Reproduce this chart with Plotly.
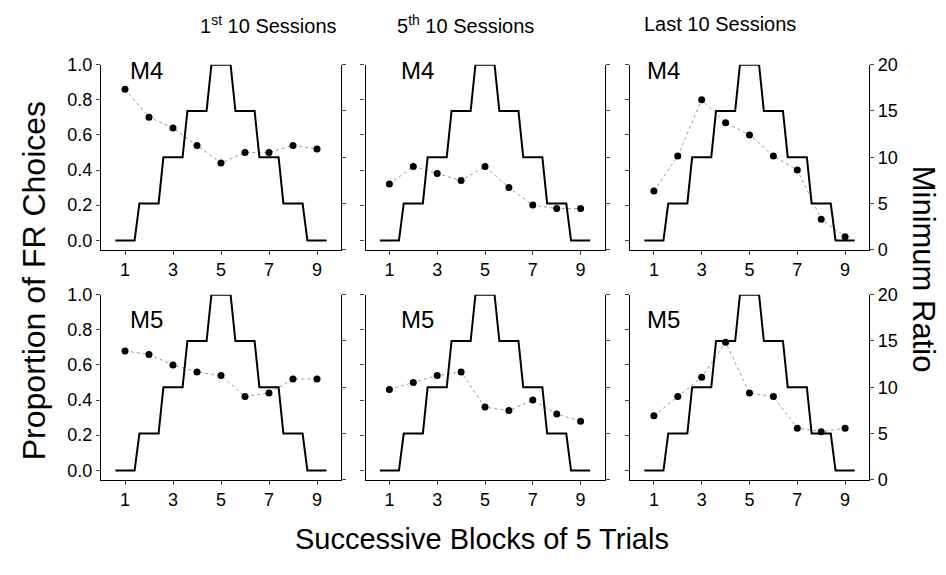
import plotly.graph_objects as go

# ---------------- data ----------------
blocks = [1, 2, 3, 4, 5, 6, 7, 8, 9]
min_ratio = [1, 5, 10, 15, 20, 15, 10, 5, 1]

m4_first = [0.86, 0.70, 0.64, 0.54, 0.44, 0.50, 0.50, 0.54, 0.52]
m4_fifth = [0.32, 0.42, 0.38, 0.34, 0.42, 0.30, 0.20, 0.18, 0.18]
m4_last = [0.28, 0.48, 0.80, 0.67, 0.60, 0.48, 0.40, 0.12, 0.02]
m5_first = [0.68, 0.66, 0.60, 0.56, 0.54, 0.42, 0.44, 0.52, 0.52]
m5_fifth = [0.46, 0.50, 0.54, 0.56, 0.36, 0.34, 0.40, 0.32, 0.28]
m5_last = [0.31, 0.42, 0.53, 0.73, 0.44, 0.42, 0.24, 0.22, 0.24]

subjects = ["M4", "M5"]
column_titles = ["1<sup>st</sup> 10 Sessions", "5<sup>th</sup> 10 Sessions", "Last 10 Sessions"]
x_ticks = [1, 3, 5, 7, 9]
left_ticks = [0.0, 0.2, 0.4, 0.6, 0.8, 1.0]
right_ticks = [0, 5, 10, 15, 20]

panel_data = [[m4_first, m4_fifth, m4_last], [m5_first, m5_fifth, m5_last]]

# ---------------- layout geometry ----------------
W, H = 946, 575
FONT = "Liberation Sans, Arial, sans-serif"
col_px = [(101, 341), (365.5, 604.5), (630, 869)]
row_px = [(56.7, 248.3), (295, 486.7)]
label_dx = [27, 33.5, 15]      # subject label offset from left axis (px)
label_cy = [63, 321]           # subject label vertical centre (px)


def xd(a, b):
    return [a / W, b / W]


def yd(top, bottom):
    return [1 - bottom / H, 1 - top / H]


def sfx(n):
    return "" if n == 1 else str(n)


# staircase built from the minimum-ratio values (each block drawn as a flat step)
half = 0.4
step_x, step_y = [], []
for b, v in zip(blocks, min_ratio):
    step_x += [b - half, b + half]
    step_y += [v, v]

fig = go.Figure()
layout = {}
tick_font = dict(family=FONT, size=18, color="black")
annotations = []

k = 0
for r in range(2):
    for c in range(3):
        k += 1
        xa = "x" + sfx(k)
        yl = "y" + sfx(2 * k - 1)
        yr = "y" + sfx(2 * k)
        # points
        fig.add_trace(go.Scatter(
            x=blocks, y=panel_data[r][c], xaxis=xa, yaxis=yl,
            mode="lines+markers",
            line=dict(color="#9a9a9a", width=1, dash="dot"),
            marker=dict(color="black", size=7),
            showlegend=False, hoverinfo="skip"))
        # staircase on right axis
        fig.add_trace(go.Scatter(
            x=step_x, y=step_y, xaxis=xa, yaxis=yr,
            mode="lines", line=dict(color="black", width=2),
            showlegend=False, hoverinfo="skip"))

        layout["xaxis" + sfx(k)] = dict(
            domain=xd(*col_px[c]), anchor=yl, range=[0, 10],
            tickvals=x_ticks, ticks="outside", ticklen=4, tickwidth=1,
            showline=True, linecolor="black", linewidth=1.2,
            showgrid=False, zeroline=False, tickfont=tick_font,
            fixedrange=True)
        layout["yaxis" + sfx(2 * k - 1)] = dict(
            domain=yd(*row_px[r]), anchor=xa, range=[-0.054, 1.0],
            tickvals=left_ticks, ticktext=[f"{t:.1f}" for t in left_ticks],
            showticklabels=(c == 0), ticks="outside", ticklen=4, tickwidth=1,
            showline=True, linecolor="black", linewidth=1.2,
            showgrid=False, zeroline=False, tickfont=tick_font,
            fixedrange=True)
        layout["yaxis" + sfx(2 * k)] = dict(
            domain=yd(*row_px[r]), anchor=xa, overlaying=yl, side="right",
            range=[0, 20], tickvals=right_ticks,
            showticklabels=(c == 2), ticks="outside", ticklen=4, tickwidth=1,
            showline=True, linecolor="black", linewidth=1.2,
            showgrid=False, zeroline=False, tickfont=tick_font,
            fixedrange=True)

        # subject label
        annotations.append(dict(
            text=subjects[r], xref="paper", yref="paper",
            x=(col_px[c][0] + label_dx[c]) / W, y=1 - label_cy[r] / H,
            xanchor="left", yanchor="middle", showarrow=False,
            font=dict(family=FONT, size=24, color="black")))

# column titles
title_x = [268, 465, 720]
for c in range(3):
    annotations.append(dict(
        text=column_titles[c], xref="paper", yref="paper",
        x=title_x[c] / W, y=1 - 15 / H, xanchor="center", yanchor="middle",
        showarrow=False, font=dict(family=FONT, size=20, color="black")))

annotations.append(dict(
    text="Proportion of FR Choices", xref="paper", yref="paper",
    x=34 / W, y=1 - 281 / H, textangle=-90, xanchor="center", yanchor="middle",
    showarrow=False, font=dict(family=FONT, size=32, color="black")))
annotations.append(dict(
    text="Minimum Ratio", xref="paper", yref="paper",
    x=923 / W, y=1 - 268 / H, textangle=90, xanchor="center", yanchor="middle",
    showarrow=False, font=dict(family=FONT, size=31, color="black")))
annotations.append(dict(
    text="Successive Blocks of 5 Trials", xref="paper", yref="paper",
    x=482 / W, y=1 - 548 / H, xanchor="center", yanchor="middle",
    showarrow=False, font=dict(family=FONT, size=29, color="black")))

fig.update_layout(
    width=W, height=H, margin=dict(l=0, r=0, t=0, b=0),
    paper_bgcolor="white", plot_bgcolor="white",
    font=dict(family=FONT, color="black"),
    annotations=annotations, **layout)

fig.write_html("out.html", config={"displayModeBar": False})
